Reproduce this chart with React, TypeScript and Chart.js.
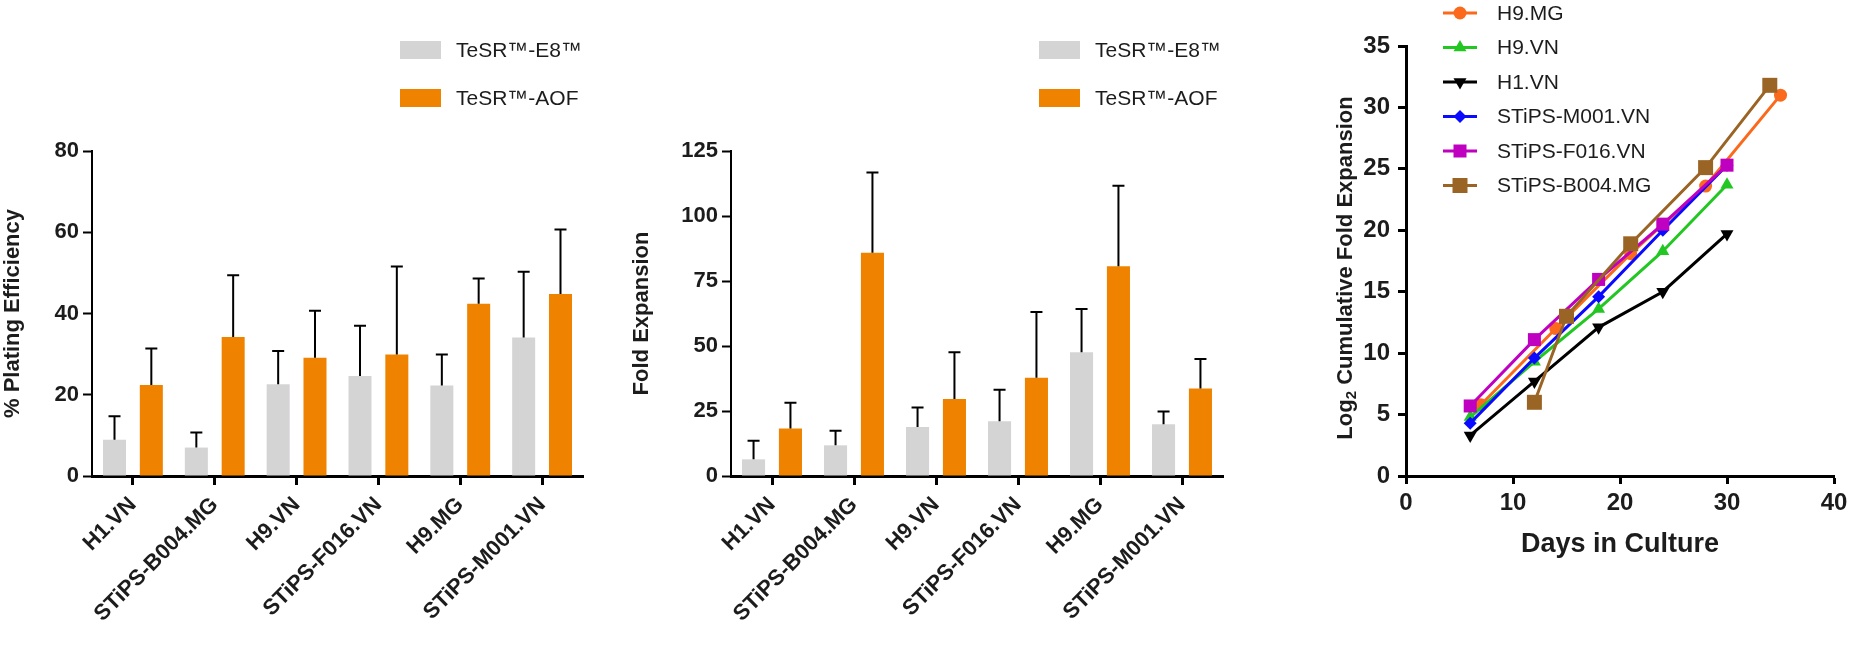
import React, { useEffect, useRef } from 'react';
import { Chart, registerables } from 'chart.js';

Chart.register(...registerables);

const FAM = "'Liberation Sans', Arial, Helvetica, sans-serif";
Chart.defaults.font.family = FAM;

// ---------- Data ----------
const cellLines = ['H1.VN', 'STiPS-B004.MG', 'H9.VN', 'STiPS-F016.VN', 'H9.MG', 'STiPS-M001.VN'];
const mediumNames = ['TeSR\u2122-E8\u2122', 'TeSR\u2122-AOF'];

const platingE8 = [8.9, 7.0, 22.6, 24.6, 22.3, 34.1];
const platingE8Err = [5.8, 3.7, 8.2, 12.4, 7.6, 16.2];
const platingAOF = [22.4, 34.2, 29.1, 29.9, 42.4, 44.8];
const platingAOFErr = [9.0, 15.2, 11.6, 21.7, 6.2, 15.9];

const foldE8 = [6.4, 11.8, 18.8, 21.1, 47.6, 19.9];
const foldE8Err = [7.2, 5.6, 7.5, 12.1, 16.6, 4.9];
const foldAOF = [18.3, 85.9, 29.6, 37.8, 80.7, 33.7];
const foldAOFErr = [9.9, 30.8, 18.0, 25.3, 30.9, 11.3];

const lineNames = ['H9.MG', 'H9.VN', 'H1.VN', 'STiPS-M001.VN', 'STiPS-F016.VN', 'STiPS-B004.MG'];
const daysH9MG = [7, 14, 21, 28, 35];
const valsH9MG = [5.8, 12.0, 18.1, 23.6, 31.0];
const daysVN = [6, 12, 18, 24, 30];
const valsH9VN = [4.8, 9.3, 13.6, 18.3, 23.7];
const valsH1VN = [3.3, 7.7, 12.1, 15.0, 19.7];
const valsM001 = [4.3, 9.6, 14.6, 20.0, 25.3];
const valsF016 = [5.7, 11.1, 16.0, 20.5, 25.3];
const daysB004 = [12, 15, 21, 28, 34];
const valsB004 = [6.0, 13.0, 18.9, 25.1, 31.8];

// ---------- Styles ----------
const GRAY = '#d4d4d4';
const ORANGE = '#ef8300';
const TXT = '#1c1c1c';

const lineStyles = [
  { color: '#fb6a1c', shape: 'circle', r: 6.5, rot: 0 },
  { color: '#22c722', shape: 'triangle', r: 7.5, rot: 0 },
  { color: '#000000', shape: 'triangle', r: 7.5, rot: 180 },
  { color: '#0a0aff', shape: 'rectRot', r: 6.5, rot: 0 },
  { color: '#c000c0', shape: 'rect', r: 9.2, rot: 0 },
  { color: '#9a6424', shape: 'rect', r: 10.6, rot: 0 },
];

function errorBarPlugin(errs: number[][]) {
  return {
    id: 'errorBars',
    afterDatasetsDraw(chart: any) {
      const ctx = chart.ctx;
      const y = chart.scales.y;
      ctx.save();
      ctx.strokeStyle = '#000';
      ctx.lineWidth = 2;
      chart.data.datasets.forEach((ds: any, d: number) => {
        const meta = chart.getDatasetMeta(d);
        meta.data.forEach((bar: any, i: number) => {
          const top = y.getPixelForValue(ds.data[i] + errs[d][i]);
          ctx.beginPath();
          ctx.moveTo(bar.x, bar.y);
          ctx.lineTo(bar.x, top);
          ctx.moveTo(bar.x - 6, top);
          ctx.lineTo(bar.x + 6, top);
          ctx.stroke();
        });
      });
      ctx.restore();
    },
  };
}

function barLegendPlugin(boxX: number, textX: number) {
  return {
    id: 'barLegend',
    afterDraw(chart: any) {
      const ctx = chart.ctx;
      ctx.save();
      const rows = [50, 98];
      chart.data.datasets.forEach((ds: any, d: number) => {
        ctx.fillStyle = ds.backgroundColor;
        ctx.fillRect(boxX, rows[d] - 9, 41, 18);
        ctx.fillStyle = TXT;
        ctx.font = `21px ${FAM}`;
        ctx.textBaseline = 'middle';
        ctx.textAlign = 'left';
        ctx.fillText(ds.label, textX, rows[d] + 1);
      });
      ctx.restore();
    },
  };
}

function drawMarker(ctx: CanvasRenderingContext2D, shape: string, x: number, y: number, r: number, rotDeg: number) {
  let rad = (rotDeg * Math.PI) / 180;
  ctx.beginPath();
  if (shape === 'circle') {
    ctx.arc(x, y, r, 0, Math.PI * 2);
  } else if (shape === 'triangle') {
    for (let k = 0; k < 3; k++) {
      const px = x + Math.sin(rad) * r;
      const py = y - Math.cos(rad) * r;
      if (k === 0) ctx.moveTo(px, py);
      else ctx.lineTo(px, py);
      rad += (2 * Math.PI) / 3;
    }
    ctx.closePath();
  } else if (shape === 'rectRot') {
    ctx.moveTo(x, y - r);
    ctx.lineTo(x + r, y);
    ctx.lineTo(x, y + r);
    ctx.lineTo(x - r, y);
    ctx.closePath();
  } else {
    const s = Math.SQRT1_2 * r;
    ctx.rect(x - s, y - s, 2 * s, 2 * s);
  }
  ctx.fill();
}

function lineLegendPlugin() {
  return {
    id: 'lineLegend',
    afterDraw(chart: any) {
      const ctx = chart.ctx;
      ctx.save();
      chart.data.datasets.forEach((ds: any, d: number) => {
        const st = lineStyles[d];
        const yy = 13 + d * 34.5;
        ctx.strokeStyle = st.color;
        ctx.fillStyle = st.color;
        ctx.lineWidth = 3;
        ctx.beginPath();
        ctx.moveTo(203, yy);
        ctx.lineTo(237, yy);
        ctx.stroke();
        drawMarker(ctx, st.shape, 220, yy, st.r, st.rot);
        ctx.fillStyle = TXT;
        ctx.font = `21px ${FAM}`;
        ctx.textBaseline = 'middle';
        ctx.textAlign = 'left';
        ctx.fillText(ds.label, 257, yy + 1);
      });
      ctx.restore();
    },
  };
}

function log2TitlePlugin(cx: number, cy: number) {
  return {
    id: 'log2Title',
    afterDraw(chart: any) {
      const ctx = chart.ctx;
      ctx.save();
      ctx.translate(cx, cy);
      ctx.rotate(-Math.PI / 2);
      ctx.fillStyle = TXT;
      ctx.textBaseline = 'middle';
      ctx.textAlign = 'left';
      const big = `bold 22px ${FAM}`;
      const small = `bold 15px ${FAM}`;
      const p1 = 'Log';
      const p2 = '2';
      const p3 = ' Cumulative Fold Expansion';
      ctx.font = big;
      const w1 = ctx.measureText(p1).width;
      const w3 = ctx.measureText(p3).width;
      ctx.font = small;
      const w2 = ctx.measureText(p2).width;
      let x = -(w1 + w2 + w3) / 2;
      ctx.font = big;
      ctx.fillText(p1, x, 0);
      x += w1;
      ctx.font = small;
      ctx.fillText(p2, x, 6);
      x += w2;
      ctx.font = big;
      ctx.fillText(p3, x, 0);
      ctx.restore();
    },
  };
}

function barConfig(
  e8: number[], e8Err: number[], aof: number[], aofErr: number[],
  yMax: number, yStep: number, yTitle: string,
  g: { top: number; right: number; yw: number; xh: number; titlePad: number; boxX: number; textX: number }
) {
  return {
    type: 'bar',
    data: {
      labels: cellLines,
      datasets: [
        { label: mediumNames[0], data: e8, backgroundColor: GRAY, categoryPercentage: 0.9, barPercentage: 0.625 },
        { label: mediumNames[1], data: aof, backgroundColor: ORANGE, categoryPercentage: 0.9, barPercentage: 0.625 },
      ],
    },
    options: {
      responsive: false,
      animation: false,
      layout: { padding: { top: g.top, right: g.right, left: 0, bottom: 0 } },
      plugins: { legend: { display: false }, tooltip: { enabled: false } },
      scales: {
        x: {
          type: 'category',
          offset: true,
          grid: { offset: false, drawOnChartArea: false, drawTicks: true, tickLength: 9, tickWidth: 3, tickColor: '#000' },
          border: { display: true, color: '#000', width: 3 },
          ticks: { font: { size: 22, weight: 'bold' }, color: TXT, minRotation: 45, maxRotation: 45, autoSkip: false, padding: 7 },
          afterFit: (s: any) => { s.height = g.xh; },
        },
        y: {
          min: 0,
          max: yMax,
          ticks: { stepSize: yStep, font: { size: 22, weight: 'bold' }, color: TXT, padding: 4 },
          grid: { drawOnChartArea: false, drawTicks: true, tickLength: 9, tickWidth: 2, tickColor: '#000' },
          border: { display: true, color: '#000', width: 2 },
          title: { display: true, text: yTitle, color: TXT, font: { size: 22, weight: 'bold', lineHeight: 1 }, padding: { top: g.titlePad, bottom: 0 } },
          afterFit: (s: any) => { s.width = g.yw; },
        },
      },
    },
    plugins: [errorBarPlugin([e8Err, aofErr]), barLegendPlugin(g.boxX, g.textX)],
  };
}

function lineConfig() {
  const series = [
    [daysH9MG, valsH9MG],
    [daysVN, valsH9VN],
    [daysVN, valsH1VN],
    [daysVN, valsM001],
    [daysVN, valsF016],
    [daysB004, valsB004],
  ];
  return {
    type: 'line',
    data: {
      datasets: series.map(([days, vals], i) => ({
        label: lineNames[i],
        data: days.map((d, k) => ({ x: d, y: vals[k] })),
        borderColor: lineStyles[i].color,
        backgroundColor: lineStyles[i].color,
        borderWidth: 3,
        pointStyle: lineStyles[i].shape,
        pointRadius: lineStyles[i].r,
        pointRotation: lineStyles[i].rot,
        pointBorderWidth: 0,
        tension: 0,
        fill: false,
        order: 5 - i,
      })),
    },
    options: {
      responsive: false,
      animation: false,
      layout: { padding: { top: 46, right: 34, left: 0, bottom: 0 } },
      plugins: { legend: { display: false }, tooltip: { enabled: false } },
      scales: {
        x: {
          type: 'linear',
          min: 0,
          max: 40,
          ticks: { stepSize: 10, font: { size: 24, weight: 'bold' }, color: TXT, padding: 5 },
          grid: { drawOnChartArea: false, drawTicks: true, tickLength: 8, tickWidth: 3, tickColor: '#000' },
          border: { display: true, color: '#000', width: 3 },
          title: { display: true, text: 'Days in Culture', color: TXT, font: { size: 27, weight: 'bold' }, padding: { top: 0, bottom: 87 } },
          afterFit: (s: any) => { s.height = 172; },
        },
        y: {
          type: 'linear',
          min: 0,
          max: 35,
          ticks: { stepSize: 5, font: { size: 24, weight: 'bold' }, color: TXT, padding: 8 },
          grid: { drawOnChartArea: false, drawTicks: true, tickLength: 8, tickWidth: 3, tickColor: '#000' },
          border: { display: true, color: '#000', width: 3 },
          afterFit: (s: any) => { s.width = 166; },
        },
      },
    },
    plugins: [lineLegendPlugin(), log2TitlePlugin(106, 268)],
  };
}

function ChartCanvas({ left, width, build }: { left: number; width: number; build: () => any }) {
  const ref = useRef<HTMLCanvasElement>(null);
  useEffect(() => {
    const chart = new Chart(ref.current as HTMLCanvasElement, build());
    return () => chart.destroy();
  }, []);
  return (
    <canvas
      ref={ref}
      width={width}
      height={648}
      style={{ position: 'absolute', left, top: 0, width, height: 648 }}
    />
  );
}

export default function App() {
  return (
    <div style={{ position: 'fixed', left: 0, top: 0, width: 1868, height: 648, background: '#fff', overflow: 'hidden' }}>
      <ChartCanvas
        left={0}
        width={620}
        build={() =>
          barConfig(platingE8, platingE8Err, platingAOF, platingAOFErr, 80, 20, '% Plating Efficiency', {
            top: 151, right: 37, yw: 92, xh: 172, titlePad: 2, boxX: 400, textX: 456,
          })
        }
      />
      <ChartCanvas
        left={620}
        width={620}
        build={() =>
          barConfig(foldE8, foldE8Err, foldAOF, foldAOFErr, 125, 25, 'Fold Expansion', {
            top: 151, right: 17, yw: 111, xh: 172, titlePad: 11, boxX: 419, textX: 475,
          })
        }
      />
      <ChartCanvas left={1240} width={628} build={lineConfig} />
    </div>
  );
}
